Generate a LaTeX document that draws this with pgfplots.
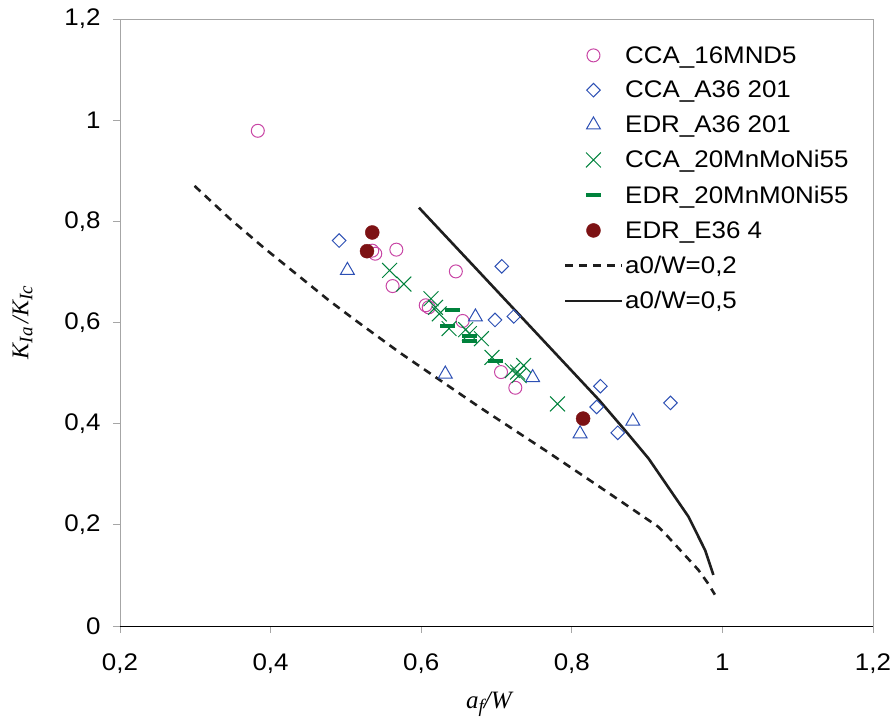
\documentclass[border=0pt]{standalone}
\usepackage{fontspec}
\setmainfont{Liberation Sans}[FakeStretch=1.08]
\newfontfamily\serifit{Liberation Serif}
\usepackage{pgfplots}
\pgfplotsset{compat=1.18}
\definecolor{cmag}{RGB}{200,70,165}
\definecolor{cblue}{RGB}{45,80,180}
\definecolor{cgreen}{RGB}{0,130,60}
\definecolor{cred}{RGB}{125,18,20}
\definecolor{cline}{RGB}{30,30,30}
\begin{document}
\begin{tikzpicture}
\useasboundingbox (-120pt,-96pt) rectangle (776pt,626pt);
\begin{axis}[
  scale only axis,
  width=753pt, height=607pt,
  xmin=0.2, xmax=1.2, ymin=0, ymax=1.2,
  xtick={0.2,0.4,...,1.21}, ytick={0,0.2,...,1.21},
  axis line style={gray!70, line width=0.8pt},
  tick style={gray!70, line width=0.8pt},
  tick align=outside, major tick length=7pt,
  xtick pos=bottom, ytick pos=left,
  /pgf/number format/.cd, use comma, fixed, precision=1, assume math mode=true,
  /pgfplots/.cd,
  tick label style={font=\fontsize{24}{26}\selectfont},
  xticklabel style={yshift=-17pt},
  yticklabel style={xshift=-9pt},
  xlabel={\serifit\fontsize{25}{27}\selectfont\itshape a\raisebox{-0.35ex}{\fontsize{19}{20}\selectfont f}/W},
  ylabel={\serifit\fontsize{24}{26}\selectfont\itshape K\raisebox{-0.35ex}{\fontsize{19}{20}\selectfont Ia}\,/K\raisebox{-0.35ex}{\fontsize{19}{20}\selectfont Ic}},
  xlabel style={at={(rel axis cs:0.49,0)}, anchor=north, yshift=-62pt},
  ylabel style={at={(rel axis cs:0,0.5)}, anchor=south, yshift=84pt},
  legend style={draw=none, fill=none, at={(rel axis cs:0.585,0.962)}, anchor=north west,
    font=\fontsize{24}{26}\selectfont, row sep=12.5pt, legend cell align=left,
    /tikz/every even column/.append style={column sep=10pt}},
  legend image code/.code={\draw[mark repeat=2,mark phase=2] plot coordinates {(0cm,0cm) (1cm,0cm) (2cm,0cm)};},
]
\addplot[only marks, mark=o, mark size=6.5pt, color=cmag, line width=1pt] coordinates {
(0.383,0.979) (0.535,0.742) (0.539,0.736) (0.567,0.744) (0.562,0.672) (0.606,0.634)
(0.610,0.630) (0.646,0.701) (0.655,0.603) (0.706,0.502) (0.725,0.471)};
\addlegendentry{CCA\_16MND5}
\addplot[only marks, mark=square, mark options={rotate=45}, mark size=4.8pt, color=cblue, line width=1pt] coordinates {
(0.491,0.762) (0.707,0.711) (0.698,0.605) (0.723,0.612) (0.838,0.474) (0.833,0.433)
(0.861,0.382) (0.931,0.441)};
\addlegendentry{CCA\_A36 201}
\addplot[only marks, mark=triangle, mark size=8pt, color=cblue, line width=1pt] coordinates {
(0.502,0.703) (0.672,0.611) (0.632,0.498) (0.748,0.491) (0.881,0.405) (0.811,0.380)};
\addlegendentry{EDR\_A36 201}
\addplot[only marks, mark=x, mark size=10.5pt, color=cgreen, line width=1pt] coordinates {
(0.558,0.703) (0.577,0.676) (0.613,0.647) (0.619,0.630) (0.624,0.617) (0.637,0.588)
(0.659,0.586) (0.664,0.578) (0.680,0.568) (0.694,0.531) (0.721,0.505) (0.728,0.502)
(0.736,0.515) (0.730,0.495) (0.781,0.439)};
\addlegendentry{CCA\_20MnMoNi55}
\addplot[only marks, mark=-, mark size=7.5pt, color=cgreen, line width=4pt] coordinates {
(0.641,0.624) (0.635,0.594) (0.664,0.574) (0.664,0.564) (0.699,0.524)};
\addlegendentry{EDR\_20MnM0Ni55}
\addplot[only marks, mark=*, mark size=7pt, color=cred, fill=cred] coordinates {
(0.535,0.778) (0.528,0.741) (0.815,0.410)};
\addlegendentry{EDR\_E36 4}
\addplot[cline, line width=2.6pt, dash pattern=on 8pt off 6pt] coordinates {
(0.299,0.870) (0.346,0.805) (0.390,0.749) (0.434,0.696) (0.478,0.643) (0.513,0.604)
(0.571,0.541) (0.620,0.491) (0.677,0.433) (0.765,0.347) (0.836,0.276) (0.915,0.196)
(0.928,0.176) (0.968,0.111) (0.981,0.084) (0.990,0.062)};
\addlegendentry{a0/W=0,2}
\addplot[cline, line width=2.6pt] coordinates {
(0.597,0.827) (0.677,0.700) (0.721,0.630) (0.770,0.552) (0.836,0.447) (0.870,0.388)
(0.902,0.331) (0.955,0.216) (0.977,0.150) (0.988,0.101)};
\addlegendentry{a0/W=0,5}
\draw[black, line width=1pt] (rel axis cs:0,0) -- (rel axis cs:1,0);
\end{axis}
\end{tikzpicture}
\end{document}
